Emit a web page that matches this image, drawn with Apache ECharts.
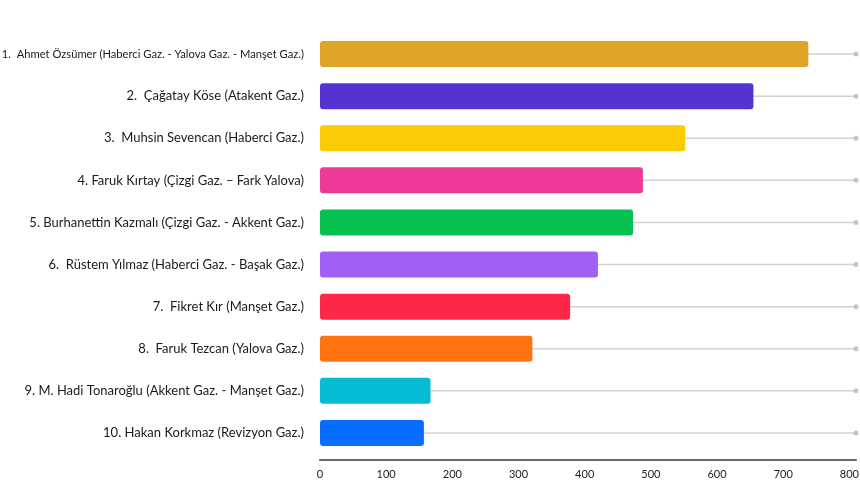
<!DOCTYPE html>
<html>
<head>
<meta charset="utf-8">
<script src="https://cdn.jsdelivr.net/npm/echarts@6/dist/echarts.min.js"></script>
<style>
html,body{margin:0;padding:0;background:#ffffff;}
#chart{width:860px;height:504px;}
</style>
</head>
<body>
<div id="chart"></div>
<script>
const categories = [
  '1.  Ahmet Özsümer (Haberci Gaz. - Yalova Gaz. - Manşet Gaz.)',
  '2.  Çağatay Köse (Atakent Gaz.)',
  '3.  Muhsin Sevencan (Haberci Gaz.)',
  '4. Faruk Kırtay (Çizgi Gaz. – Fark Yalova)',
  '5. Burhanettin Kazmalı (Çizgi Gaz. - Akkent Gaz.)',
  '6.  Rüstem Yılmaz (Haberci Gaz. - Başak Gaz.)',
  '7.  Fikret Kır (Manşet Gaz.)',
  '8.  Faruk Tezcan (Yalova Gaz.)',
  '9. M. Hadi Tonaroğlu (Akkent Gaz. - Manşet Gaz.)',
  '10. Hakan Korkmaz (Revizyon Gaz.)'
];
const values = [738, 655, 552, 488, 473, 420, 378, 321, 167, 157];
const barColors = ['#E0A526','#5533D1','#FCCB05','#EE3A97','#06C150','#A35EF5','#FF2748','#FF7411','#05BCD3','#066DFF'];
const axisMax = 810;
const tickInterval = 100;

const chart = echarts.init(document.getElementById('chart'), null, {renderer:'canvas'});
const font = 'Lato, "Noto Sans", sans-serif';
const yLabelBase = {color: '#1a1a1a', fontSize: 13, fontFamily: font};
chart.setOption({
  backgroundColor: '#ffffff',
  animation: false,
  grid: {left: 320, right: 4, top: 33, bottom: 50, containLabel: false, outerBoundsMode: 'none'},
  xAxis: {
    type: 'value', min: 0, max: axisMax, interval: tickInterval, offset: 6,
    axisLine: {show: true, lineStyle: {color: '#6b6b6b', width: 2}},
    axisTick: {show: false},
    splitLine: {show: false},
    axisLabel: {
      color: '#222', fontSize: 11, fontFamily: font, margin: 9,
      formatter: v => (v % tickInterval === 0 ? String(v) : '')
    }
  },
  yAxis: [
    {
      type: 'category', data: categories, inverse: true,
      axisLine: {show: false}, axisTick: {show: false}, splitLine: {show: false},
      axisLabel: Object.assign({}, yLabelBase, {
        margin: 16,
        formatter: (v, i) => (i === 0 ? '{s|' + v + '}' : v),
        rich: {s: Object.assign({}, yLabelBase, {fontSize: 11.2})}
      })
    },
    {
      type: 'category', data: categories, inverse: true, show: false
    }
  ],
  series: [
    {
      type: 'bar', yAxisIndex: 1, data: categories.map(() => axisMax), barWidth: 1.5,
      itemStyle: {color: '#d2d2d2'}, z: 1, silent: true
    },
    {
      type: 'bar', yAxisIndex: 0,
      data: values.map((v, i) => ({value: v, itemStyle: {color: barColors[i]}})),
      barWidth: 26, z: 3,
      itemStyle: {borderRadius: 3}
    },
    {
      type: 'scatter', yAxisIndex: 1, data: categories.map((c, i) => [axisMax, i]), symbolSize: 5,
      itemStyle: {color: '#b8b8b8'}, z: 2, silent: true
    }
  ]
});
</script>
</body>
</html>
